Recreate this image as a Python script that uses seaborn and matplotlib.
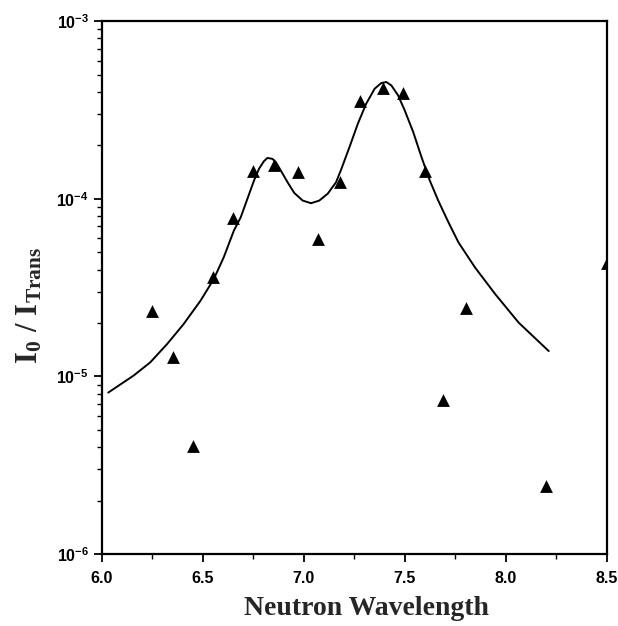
import numpy as np
import pandas as pd
import matplotlib
matplotlib.use('Agg')
import matplotlib.pyplot as plt
import seaborn as sns
from matplotlib.ticker import MultipleLocator, LogLocator, FormatStrFormatter

# medidas (triângulos)
wl_pts = [6.25, 6.35, 6.45, 6.55, 6.65, 6.75, 6.85, 6.97, 7.07, 7.18,
          7.28, 7.39, 7.49, 7.60, 7.69, 7.80, 8.20, 8.50]
ratio_pts = [2.34e-5, 1.29e-5, 4.06e-6, 3.65e-5, 7.85e-5, 1.44e-4, 1.56e-4, 1.41e-4, 5.97e-5, 1.24e-4,
             3.58e-4, 4.19e-4, 3.93e-4, 1.44e-4, 7.38e-6, 2.44e-5, 2.41e-6, 4.38e-5]

# curva ajustada
wl_fit = [6.031, 6.156, 6.239, 6.322, 6.404, 6.488, 6.554, 6.603, 6.653, 6.687,
          6.720, 6.753, 6.778, 6.802, 6.819, 6.844, 6.861, 6.886, 6.919, 6.952,
          6.994, 7.035, 7.076, 7.118, 7.159, 7.184, 7.225, 7.267, 7.308, 7.350,
          7.383, 7.408, 7.433, 7.466, 7.499, 7.541, 7.582, 7.623, 7.665, 7.715,
          7.765, 7.847, 7.947, 8.063, 8.212]
ratio_fit = [8.11e-6, 1.01e-5, 1.20e-5, 1.52e-5, 1.97e-5, 2.67e-5, 3.54e-5, 4.69e-5, 6.62e-5, 7.87e-5,
             1.00e-4, 1.27e-4, 1.48e-4, 1.63e-4, 1.70e-4, 1.68e-4, 1.61e-4, 1.44e-4, 1.24e-4, 1.08e-4,
             9.78e-5, 9.45e-5, 9.78e-5, 1.07e-4, 1.24e-4, 1.46e-4, 1.95e-4, 2.65e-4, 3.43e-4, 4.17e-4,
             4.49e-4, 4.55e-4, 4.35e-4, 3.83e-4, 3.15e-4, 2.38e-4, 1.72e-4, 1.27e-4, 9.78e-5, 7.40e-5,
             5.69e-5, 4.11e-5, 2.91e-5, 2.01e-5, 1.39e-5]

pts = pd.DataFrame({'wl': wl_pts, 'ratio': ratio_pts})
fit = pd.DataFrame({'wl': wl_fit, 'ratio': ratio_fit})

sns.set_style('ticks')
plt.rcParams['font.family'] = ['Liberation Sans', 'DejaVu Sans']
plt.rcParams['mathtext.fontset'] = 'custom'
plt.rcParams['mathtext.rm'] = 'Liberation Serif:bold'
plt.rcParams['mathtext.bf'] = 'Liberation Serif:bold'
plt.rcParams['mathtext.it'] = 'Liberation Serif:bold'

fig = plt.figure(figsize=(6.18, 6.26), dpi=100)
ax = fig.add_axes([0.165, 0.115, 0.817, 0.851])

sns.lineplot(data=fit, x='wl', y='ratio', color='black', linewidth=1.4, sort=False, ax=ax)
sns.scatterplot(data=pts, x='wl', y='ratio', marker='^', color='black', s=85, linewidth=0, ax=ax, zorder=5)

ax.set_yscale('log')
ax.set_xlim(6.0, 8.5)
ax.set_ylim(1e-6, 1e-3)
ax.xaxis.set_major_locator(MultipleLocator(0.5))
ax.xaxis.set_minor_locator(MultipleLocator(0.25))
ax.yaxis.set_major_locator(LogLocator(base=10))
ax.yaxis.set_minor_locator(LogLocator(base=10, subs=np.arange(2, 10)))
ax.xaxis.set_major_formatter(FormatStrFormatter('%.1f'))

for s in ax.spines.values():
    s.set_linewidth(1.6)
    s.set_color('black')
ax.tick_params(which='major', direction='out', length=6, width=1.3, labelsize=11.5, colors='black')
ax.tick_params(axis='x', which='major', pad=6)
ax.tick_params(which='minor', direction='out', length=3.5, width=1.0, colors='black')
for lab in ax.get_xticklabels() + ax.get_yticklabels():
    lab.set_fontweight('bold')

ax.set_xlabel('Neutron Wavelength', family='Liberation Serif', fontweight='bold', fontsize=20)
ax.set_ylabel(r'$\mathbf{I_0\ /\ I_{Trans}}$', fontsize=22)
ax.xaxis.set_label_coords(0.523, -0.079)
ax.yaxis.set_label_coords(-0.113, 0.467)

plt.savefig('out.png', dpi=100)
